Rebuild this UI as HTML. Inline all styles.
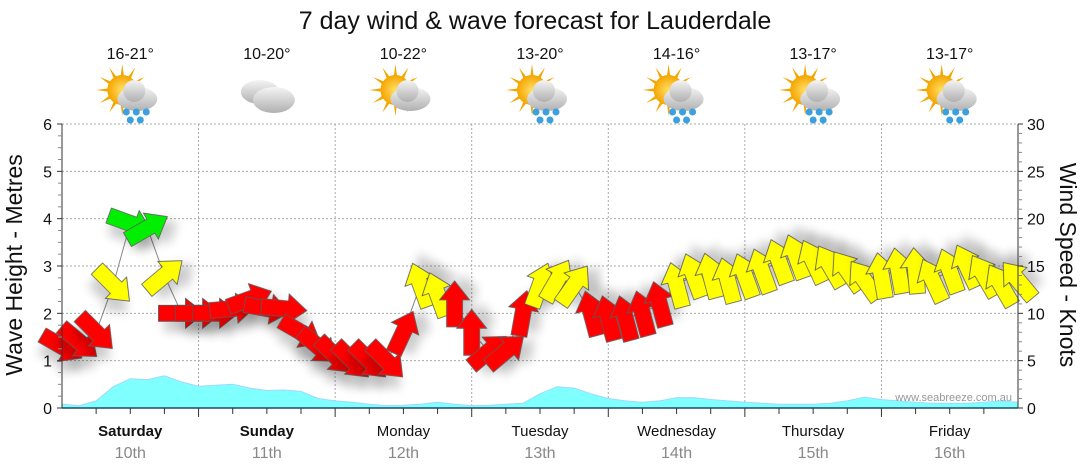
<!DOCTYPE html>
<html><head><meta charset="utf-8"><style>
body{margin:0;background:#fff;}
svg{display:block;font-family:"Liberation Sans","DejaVu Sans",sans-serif;}
</style></head><body>
<svg id="chart" width="1080" height="475" viewBox="0 0 1080 475" xmlns="http://www.w3.org/2000/svg">
<defs>
<filter id="sh" x="-50%" y="-50%" width="200%" height="200%"><feGaussianBlur in="SourceAlpha" stdDeviation="5"/><feOffset dx="6" dy="10"/><feComponentTransfer><feFuncA type="linear" slope="0.2"/></feComponentTransfer><feMerge><feMergeNode/><feMergeNode in="SourceGraphic"/></feMerge></filter>
<radialGradient id="sun" cx="50%" cy="50%" r="50%"><stop offset="0" stop-color="#ffe066"/><stop offset="1" stop-color="#f5a500"/></radialGradient>
<linearGradient id="cloud" x1="0" y1="0" x2="0" y2="1"><stop offset="0" stop-color="#f4f4f4"/><stop offset="1" stop-color="#b0b0b0"/></linearGradient>
</defs>
<text x="535" y="29" font-size="25" text-anchor="middle" fill="#111">7 day wind &amp; wave forecast for Lauderdale</text>
<g id="grid"></g>
<g id="wave"></g>
<g id="wind"></g>
<g id="axes"></g>
<g id="wx"></g>
<text x="1012" y="401" font-size="11" text-anchor="end" fill="#999">www.seabreeze.com.au</text>
<text transform="translate(22,265) rotate(-90)" font-size="23" text-anchor="middle" fill="#111">Wave Height - Metres</text>
<text transform="translate(1060,265) rotate(90)" font-size="23" text-anchor="middle" fill="#111">Wind Speed - Knots</text>
</svg>
<script>
const dayNames=["Saturday","Sunday","Monday","Tuesday","Wednesday","Thursday","Friday"];
const dayDates=["10th","11th","12th","13th","14th","15th","16th"];
const temps=["16-21°","10-20°","10-22°","13-20°","14-16°","13-17°","13-17°"];
const wxRain=[true,false,false,true,true,true,true];
const wxSun=[true,false,true,true,true,true,true];
const waveHeights=[0.08,0.05,0.15,0.45,0.62,0.6,0.68,0.55,0.46,0.48,0.5,0.42,0.37,0.38,0.35,0.2,0.15,0.12,0.08,0.05,0.06,0.08,0.12,0.08,0.05,0.06,0.08,0.1,0.3,0.45,0.42,0.3,0.2,0.15,0.12,0.15,0.22,0.22,0.18,0.15,0.12,0.1,0.08,0.08,0.08,0.1,0.15,0.23,0.18,0.15,0.12,0.1,0.1,0.1,0.12,0.15,0.12];
const windSpeeds=[6.5,7,8,13,19.5,19,14,10,10,10,10.5,11.5,10.5,10.5,8,6.5,5.5,5,5,5,8,13,12,11,8,6,6,10,13,13.5,13,10,9.5,9.5,10,11,13,14,14,13.5,14,14.5,15.5,16,15.5,15,14.5,13.5,14,14.5,14.5,13.5,14.5,15,14,13,13.5];
const windAngles=[30,40,45,45,20,-30,-40,0,0,0,-5,-20,10,5,30,40,45,45,45,45,-65,-110,-110,-90,-90,-40,-40,-80,-70,-60,-55,-105,-105,-105,-105,-105,-105,-110,-105,-105,-110,-110,-110,-110,-115,-120,-125,-125,-100,-100,-95,-115,-110,-115,-120,-120,-130];

const NS="http://www.w3.org/2000/svg";
const X0=62,X1=1018,Y0=408,Y1=124;
const xAt=h=>X0+(X1-X0)*h/168;
const yM=m=>Y0-(Y0-Y1)*m/6;
const yK=k=>Y0-(Y0-Y1)*k/30;
function mk(tag,attrs,parent){const e=document.createElementNS(NS,tag);for(const k in attrs)e.setAttribute(k,attrs[k]);parent.appendChild(e);return e;}
const G=id=>document.getElementById(id);

const grid=G('grid');
for(let m=1;m<=6;m++){const l=mk('line',{x1:X0,x2:X1,y1:yM(m),y2:yM(m),stroke:'#aaa','stroke-dasharray':'2,2'},grid);

}
for(let d=1;d<7;d++){const l=mk('line',{x1:xAt(d*24),x2:xAt(d*24),y1:Y1,y2:Y0,stroke:'#aaa','stroke-dasharray':'2,2'},grid);

}

let d='M'+X0+','+Y0;
waveHeights.forEach((v,i)=>{d+=' L'+xAt(i*3).toFixed(1)+','+yM(v).toFixed(1);});
d+=' L'+xAt((waveHeights.length-1)*3)+','+Y0+' Z';
const wa=mk('path',{d:d,fill:'#80ffff',stroke:'#a0d8ff','stroke-width':1},G('wave'));



const wind=G('wind');
let ld='';
windSpeeds.forEach((v,i)=>{ld+=(i?' L':'M')+xAt(i*3).toFixed(1)+','+yK(v).toFixed(1);});
const wl=mk('path',{d:ld,fill:'none',stroke:'#888','stroke-width':1},wind);


const arrowPts="-23,-8 4,-8 4,-15 23,0 4,15 4,8 -23,8";
windSpeeds.forEach((v,i)=>{
  const col=v>=18?'#00ee00':(v>=12?'#ffff00':'#ff0000');
  const a=mk('polygon',{points:arrowPts,fill:col,stroke:'#555','stroke-width':0.8,filter:'url(#sh)',
    transform:`translate(${xAt(i*3).toFixed(1)},${yK(v).toFixed(1)}) rotate(${windAngles[i]})`},wind);
  
  
});

const ax=G('axes');
const bl=mk('line',{x1:X0,x2:X1,y1:Y0,y2:Y0,stroke:'#1a4a6a','stroke-width':1.5},ax);


const la=mk('line',{x1:X0,x2:X0,y1:Y1,y2:Y0,stroke:'#333'},ax);


const ra=mk('line',{x1:X1,x2:X1,y1:Y1,y2:Y0,stroke:'#333'},ax);


for(let q=0;q<=24;q++){const m=q/4,maj=q%4==0;mk('line',{x1:X0-(maj?5:4),x2:X0,y1:yM(m),y2:yM(m),stroke:maj?'#333':'#888'},ax);
 if(maj){const t=mk('text',{x:X0-10,y:yM(m)+6,'font-size':16,'text-anchor':'end',fill:'#111'},ax);t.textContent=m;
 
 }}
for(let k=0;k<=30;k++){const maj=k%5==0;mk('line',{x1:X1,x2:X1+(maj?5:4),y1:yK(k),y2:yK(k),stroke:maj?'#333':'#888'},ax);
 if(maj){const t=mk('text',{x:X1+9,y:yK(k)+6,'font-size':16,fill:'#111'},ax);t.textContent=k;
 
 }}
for(let h=6;h<168;h+=6){const maj=h%24==0;mk('line',{x1:xAt(h),x2:xAt(h),y1:Y0,y2:Y0+(maj?9:6),stroke:'#333'},ax);}
dayNames.forEach((n,i)=>{const cx=xAt(i*24+12);
 const t=mk('text',{x:cx,y:436,'font-size':15,'text-anchor':'middle',fill:'#111','font-weight':i<2?'bold':'normal'},ax);t.textContent=n;
 
 
 const t2=mk('text',{x:cx,y:458,'font-size':16,'text-anchor':'middle',fill:'#888'},ax);t2.textContent=dayDates[i];
 
 
});

const wx=G('wx');
temps.forEach((tp,i)=>{const cx=xAt(i*24+12);
 const t=mk('text',{x:cx,y:59,'font-size':16,'text-anchor':'middle',fill:'#111'},wx);t.textContent=tp;
 
 
 const g=mk('g',{transform:`translate(${cx},96)`},wx);
 
 
 if(wxSun[i]){for(let r=0;r<12;r++)mk('polygon',{points:"-3.5,0 3.5,0 0,-26",fill:'#f5a500',transform:`translate(-8,-6) rotate(${r*30})`},g);
  mk('circle',{cx:-8,cy:-6,r:15,fill:'url(#sun)'},g);
  mk('ellipse',{cx:7,cy:3,rx:20,ry:12,fill:'url(#cloud)'},g);
  mk('circle',{cx:4,cy:-5,r:11,fill:'url(#cloud)'},g);}
 else{mk('ellipse',{cx:-7,cy:-4,rx:19,ry:12,fill:'url(#cloud)'},g);
  mk('ellipse',{cx:7,cy:4,rx:21,ry:13,fill:'url(#cloud)'},g);}
 if(wxRain[i]){[[-4,16],[6,16],[16,16],[0,24],[10,24]].forEach(p=>mk('circle',{cx:p[0],cy:p[1],r:3.5,fill:'#3aa0e0'},g));}
});
</script>
</body></html>
